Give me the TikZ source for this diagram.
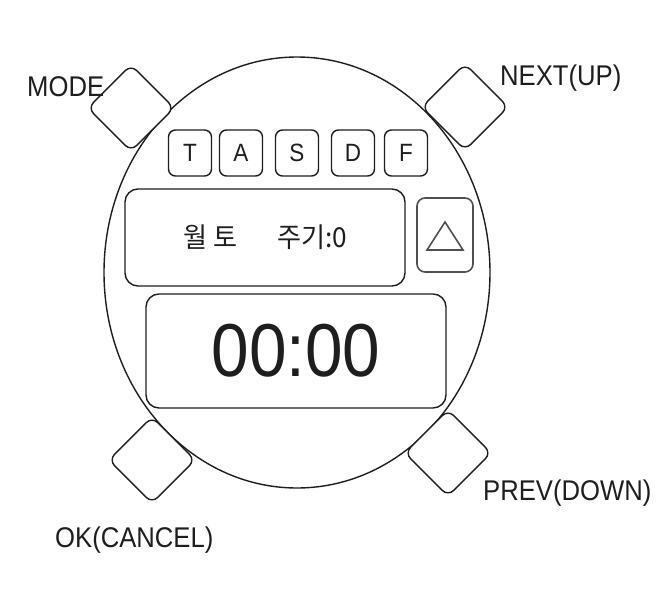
\documentclass[tikz,border=0pt]{standalone}
\usepackage{fontspec}
\setmainfont{Liberation Sans}[FakeStretch=0.9]
\newfontfamily\krfont{Noto Sans CJK KR}[FakeStretch=0.95]
\usetikzlibrary{shapes.geometric,calc}
\definecolor{ink}{HTML}{1E1E1E}
\definecolor{softink}{HTML}{505050}
\tikzset{
  stroke/.style={draw=ink, line width=1.4pt},
  btn/.style={stroke, fill=white, rounded corners=8pt, minimum size=61pt, inner sep=0pt, rotate=45},
  lbl/.style={inner sep=0pt, anchor=base west, text=ink, font=\fontsize{28.5}{30}\selectfont},
  keybox/.style={stroke, rounded corners=7pt, minimum width=43pt, minimum height=46pt, inner sep=0pt, text=ink, font=\fontsize{25}{27}\selectfont},
  display/.style={stroke, rounded corners=13pt, inner sep=0pt, text=ink}
}
\begin{document}
\begin{tikzpicture}[x=1pt,y=-1pt]
\useasboundingbox (0,0) rectangle (657,603);
% watch case
\node[stroke, ellipse, minimum width=386pt, minimum height=431pt, inner sep=0pt] (case) at (297,272.5) {};
% side buttons
\node[btn] (mode) at (131,108) {};
\node[btn] (next) at (465,107) {};
\node[btn] (ok) at (152,460) {};
\node[btn] (prev) at (448,453) {};
% labels
\node[lbl] (modeL) at (27,96) {MODE};
\node[lbl] (nextL) at (500,85) {NEXT(UP)};
\node[lbl] (okL) at (55,547) {OK(CANCEL)};
\node[lbl] (prevL) at (483,500) {PREV(DOWN)};
% key row
\node[keybox] (kT) at (190,153) {T};
\node[keybox] (kA) at (241,153) {A};
\node[keybox] (kS) at (297,153) {S};
\node[keybox] (kD) at (353,153) {D};
\node[keybox] (kF) at (406,153) {F};
% upper display
\node[display, minimum width=280pt, minimum height=97pt, font=\krfont\fontsize{27.5}{29}\selectfont] (upper) at (265,237.5) {월 토\hspace*{40pt}주기:0};
% triangle box
\node[draw=softink, line width=1.6pt, rounded corners=8pt, minimum width=56pt, minimum height=74pt, inner sep=0pt] (tri) at (445,235) {};
\draw[draw=softink, line width=1.6pt, line join=miter] ($(tri.center)+(0,-13)$) -- ($(tri.center)+(18,15)$) -- ($(tri.center)+(-18,15)$) -- cycle;
% lower display
\node[display, minimum width=300pt, minimum height=114pt, font=\fontsize{75}{78}\selectfont] (lower) at (296,351) {00:00};
\end{tikzpicture}
\end{document}
